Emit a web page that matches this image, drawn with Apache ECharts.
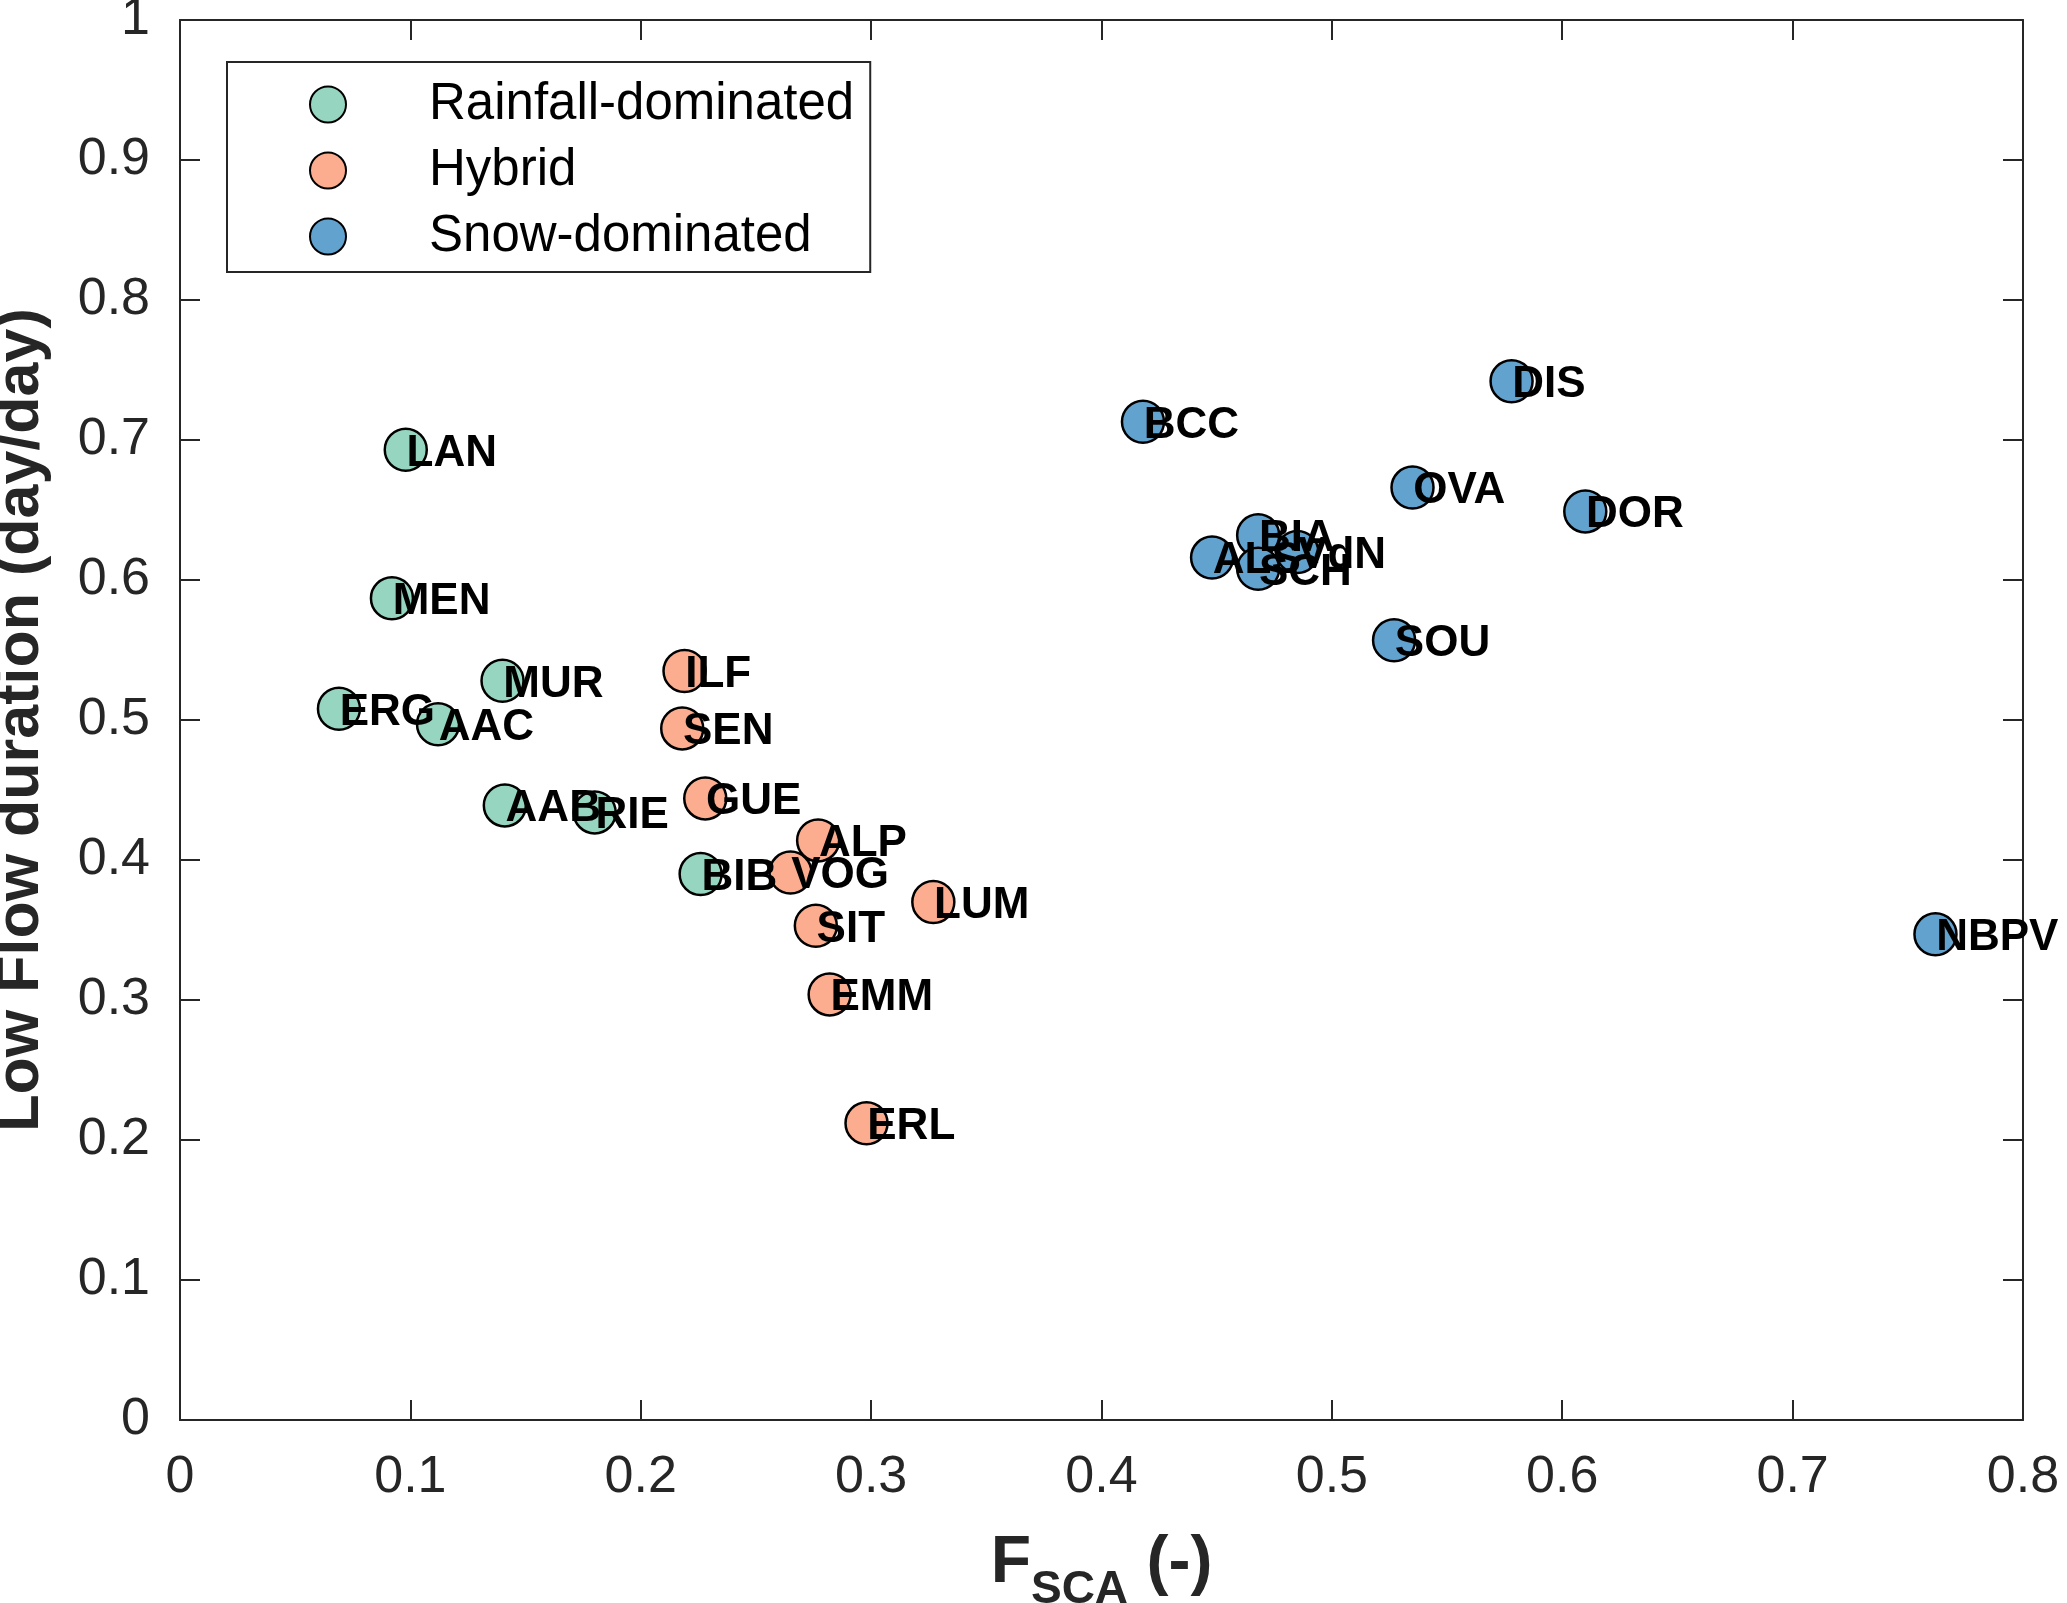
<!DOCTYPE html>
<html>
<head>
<meta charset="utf-8">
<script src="https://cdn.jsdelivr.net/npm/echarts@6/dist/echarts.min.js"></script>
<style>
html,body{margin:0;padding:0;background:#fff;}
#chart{width:2067px;height:1603px;}
</style>
</head>
<body>
<div id="chart"></div>
<script>
// catchments
var rainNames = ['LAN', 'MEN', 'MUR', 'ERG', 'AAC', 'AAB', 'RIE', 'BIB'];
var rainX = [0.098, 0.092, 0.140, 0.069, 0.112, 0.141, 0.180, 0.226];
var rainY = [0.693, 0.587, 0.528, 0.508, 0.497, 0.439, 0.434, 0.390];

var hybNames = ['ILF', 'SEN', 'GUE', 'ALP', 'VOG', 'SIT', 'LUM', 'EMM', 'ERL'];
var hybX = [0.219, 0.218, 0.228, 0.277, 0.265, 0.276, 0.327, 0.282, 0.298];
var hybY = [0.535, 0.494, 0.444, 0.414, 0.391, 0.353, 0.370, 0.304, 0.212];

var snowNames = ['BCC', 'DIS', 'OVA', 'DOR', 'ALS', 'BIA', 'SCH', 'VdN', 'SOU', 'NBPV'];
var snowX = [0.418, 0.578, 0.535, 0.610, 0.448, 0.468, 0.468, 0.485, 0.527, 0.762];
var snowY = [0.713, 0.742, 0.666, 0.649, 0.616, 0.632, 0.608, 0.620, 0.557, 0.347];

var xTicks = [0, 0.8, 0.1];
var yTicks = [0, 1, 0.1];

var FONT = 'Liberation Sans, Arial';
var INK = '#262626';

function pts(names, xs, ys) {
    var out = [];
    for (var i = 0; i < names.length; i++) {
        out.push({ name: names[i], value: [xs[i], ys[i]] });
    }
    return out;
}

function grp(name, color, names, xs, ys) {
    return {
        name: name,
        type: 'scatter',
        xAxisIndex: 0,
        yAxisIndex: 0,
        symbol: 'circle',
        symbolSize: 42,
        itemStyle: { color: color, borderColor: '#000', borderWidth: 2.5, opacity: 1 },
        label: {
            show: true,
            formatter: '{b}',
            position: [21, 21],
            align: 'left',
            verticalAlign: 'middle',
            offset: [2, 5],
            color: '#000',
            fontFamily: FONT,
            fontWeight: 'bold',
            fontSize: 44
        },
        emphasis: { disabled: true },
        data: pts(names, xs, ys)
    };
}

function axis(pos, lim, extra) {
    var a = {
        type: 'value',
        position: pos,
        min: lim[0], max: lim[1], interval: lim[2],
        axisLine: { show: true, onZero: false, lineStyle: { color: INK, width: 2 } },
        axisTick: { show: true, inside: true, length: 20, lineStyle: { color: INK, width: 2 } },
        axisLabel: { show: false },
        splitLine: { show: false }
    };
    return Object.assign(a, extra || {});
}

var option = {
    animation: false,
    backgroundColor: '#fff',
    grid: { left: 180, right: 44, top: 20, bottom: 183, outerBoundsMode: 'none' },
    legend: {
        left: 227, top: 62,
        orient: 'vertical',
        padding: [17, 16, 10, 82],
        itemWidth: 36, itemHeight: 36, itemGap: 15,
        borderColor: INK, borderWidth: 2,
        backgroundColor: '#fff',
        icon: 'circle',
        textStyle: { color: '#000', fontFamily: FONT, fontSize: 51, padding: [0, 0, 0, 78] },
        data: ['Rainfall-dominated', 'Hybrid', 'Snow-dominated']
    },
    xAxis: [
        axis('bottom', xTicks, {
            name: '{f|F}{s|SCA}{f| (-)}',
            nameLocation: 'middle', nameGap: 95,
            nameTextStyle: {
                rich: {
                    f: { fontFamily: FONT, fontWeight: 'bold', fontSize: 66, color: INK },
                    s: { fontFamily: FONT, fontWeight: 'bold', fontSize: 46, color: INK, padding: [52, 0, 0, 0] }
                }
            },
            axisLabel: { show: true, margin: 32, color: INK, fontFamily: FONT, fontSize: 52 }
        }),
        axis('top', xTicks)
    ],
    yAxis: [
        axis('left', yTicks, {
            name: 'Low Flow duration (day/day)',
            nameLocation: 'middle', nameGap: 128,
            nameTextStyle: { fontFamily: FONT, fontWeight: 'bold', fontSize: 61, color: INK },
            axisLabel: { show: true, margin: 30, color: INK, fontFamily: FONT, fontSize: 52 }
        }),
        axis('right', yTicks)
    ],
    series: [
        grp('Rainfall-dominated', '#96d6c1', rainNames, rainX, rainY),
        grp('Hybrid', '#fcad8f', hybNames, hybX, hybY),
        grp('Snow-dominated', '#62a2cf', snowNames, snowX, snowY)
    ]
};

var chart = echarts.init(document.getElementById('chart'));
chart.setOption(option);
</script>
</body>
</html>
